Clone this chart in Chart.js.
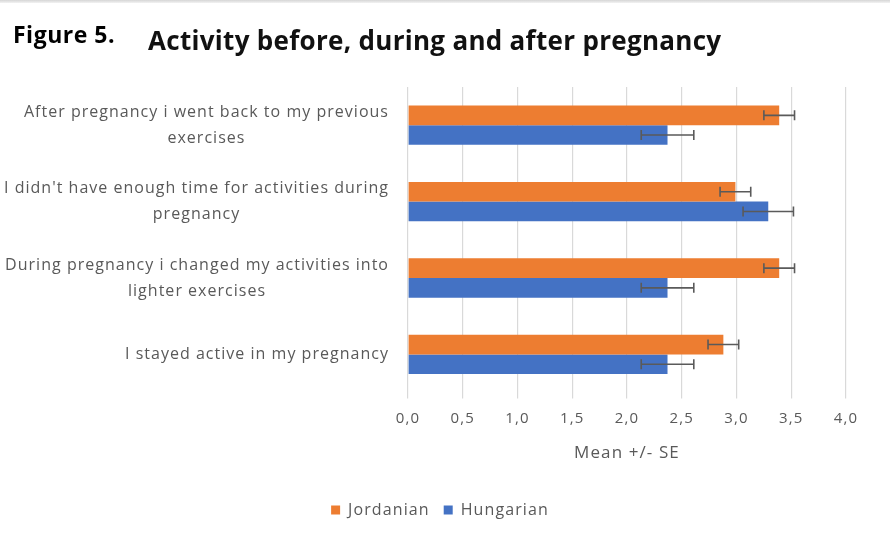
<!DOCTYPE html>
<html>
<head>
<meta charset="utf-8">
<script src="https://cdn.jsdelivr.net/npm/chart.js@4/dist/chart.umd.min.js"></script>
<style>
  html, body { margin: 0; padding: 0; background: #fff; }
  #wrap { position: relative; width: 890px; height: 541px; overflow: hidden; }
  #topline { position: absolute; left: 0; top: 0; width: 890px; height: 3px; background: linear-gradient(#d6d6d6, #f2f2f2); }
  #fig { position: absolute; left: 13px; top: 22.6px; line-height: 1; font-family: "Open Sans", sans-serif; font-weight: 700; font-size: 23px; color: #000; letter-spacing: 0.5px; white-space: nowrap; }
  #ttl { position: absolute; left: 148px; top: 26.9px; line-height: 1; font-family: "Open Sans", sans-serif; font-weight: 700; font-size: 26px; color: #111; letter-spacing: 0.3px; white-space: nowrap; }
  #c { position: absolute; left: 0; top: 0; }
</style>
</head>
<body>
<div id="wrap">
  <canvas id="c" width="890" height="541"></canvas>
  <div id="topline"></div>
  <div id="fig">Figure 5.</div>
  <div id="ttl">Activity before, during and after pregnancy</div>
</div>
<script>
const categories = [
  ['After pregnancy i went back to my previous', 'exercises'],
  ["I didn't have enough time for activities during", 'pregnancy'],
  ['During pregnancy i changed my activities into', 'lighter exercises'],
  ['I stayed active in my pregnancy']
];
const seriesNames = ['Jordanian', 'Hungarian'];
const jordanian = [3.39, 2.99, 3.39, 2.88];
const jordanianSE = [0.14, 0.14, 0.14, 0.14];
const hungarian = [2.37, 3.29, 2.37, 2.37];
const hungarianSE = [0.24, 0.23, 0.24, 0.24];
const xTickLabels = ['0,0', '0,5', '1,0', '1,5', '2,0', '2,5', '3,0', '3,5', '4,0'];
const xAxisTitle = 'Mean +/- SE';

const GRAY = '#595959';
const FAMILY = '"Open Sans", sans-serif';
const SPACING = '1.1px';

const spacing = {
  id: 'spacing',
  beforeLayout(chart) { chart.ctx.letterSpacing = SPACING; },
  beforeDraw(chart) { chart.ctx.letterSpacing = SPACING; }
};

const errorBars = {
  id: 'errorBars',
  afterDatasetsDraw(chart) {
    const ctx = chart.ctx;
    const xs = chart.scales.x;
    const seList = [jordanianSE, hungarianSE];
    ctx.save();
    ctx.strokeStyle = '#5a5a5a';
    ctx.lineWidth = 1.6;
    chart.data.datasets.forEach((ds, di) => {
      const meta = chart.getDatasetMeta(di);
      meta.data.forEach((el, i) => {
        const v = ds.data[i];
        const se = seList[di][i];
        const x1 = xs.getPixelForValue(v - se);
        const x2 = xs.getPixelForValue(v + se);
        const y = el.y;
        ctx.beginPath();
        ctx.moveTo(x1, y); ctx.lineTo(x2, y);
        ctx.moveTo(x1, y - 5); ctx.lineTo(x1, y + 5);
        ctx.moveTo(x2, y - 5); ctx.lineTo(x2, y + 5);
        ctx.stroke();
      });
    });
    ctx.restore();
  }
};

const catLabels = {
  id: 'catLabels',
  afterDraw(chart) {
    const ctx = chart.ctx;
    const ys = chart.scales.y;
    ctx.save();
    ctx.font = '16px ' + FAMILY;
    ctx.letterSpacing = '1.02px';
    ctx.fillStyle = GRAY;
    ctx.textAlign = 'center';
    ctx.textBaseline = 'middle';
    const rightX = 389;
    const lh = 26;
    categories.forEach((lines, i) => {
      const yc = ys.getPixelForTick(i);
      const w = Math.max(...lines.map(l => ctx.measureText(l).width));
      const cx = rightX - w / 2;
      lines.forEach((l, j) => {
        ctx.fillText(l, cx, yc + (j - (lines.length - 1) / 2) * lh);
      });
    });
    ctx.restore();
  }
};

new Chart(document.getElementById('c'), {
  type: 'bar',
  data: {
    labels: categories,
    datasets: [
      { label: seriesNames[0], data: jordanian, backgroundColor: '#ED7D31', barPercentage: 1.0, categoryPercentage: 0.515 },
      { label: seriesNames[1], data: hungarian, backgroundColor: '#4472C4', barPercentage: 1.0, categoryPercentage: 0.515 }
    ]
  },
  options: {
    indexAxis: 'y',
    responsive: false,
    animation: false,
    layout: { padding: { top: 87, right: 44, bottom: 13, left: 34 } },
    scales: {
      x: {
        min: 0, max: 4,
        ticks: {
          stepSize: 0.5,
          color: GRAY,
          font: { family: FAMILY, size: 15 },
          padding: 11,
          callback: (v, i) => xTickLabels[i]
        },
        grid: { color: '#d9d9d9', lineWidth: 1.2, tickLength: 6, tickColor: '#d9d9d9' },
        border: { display: false },
        title: {
          display: true, text: xAxisTitle, color: GRAY,
          font: { family: FAMILY, size: 17 },
          padding: { top: 4, bottom: 25 }
        }
      },
      y: {
        ticks: { display: false },
        grid: { display: false },
        border: { display: false },
        afterFit(scale) { scale.width = 374; }
      }
    },
    plugins: {
      legend: {
        position: 'bottom',
        labels: {
          boxWidth: 9, boxHeight: 9, padding: 14,
          color: GRAY, font: { family: FAMILY, size: 16 }
        }
      },
      tooltip: { enabled: false }
    }
  },
  plugins: [spacing, errorBars, catLabels]
});
</script>
</body>
</html>
